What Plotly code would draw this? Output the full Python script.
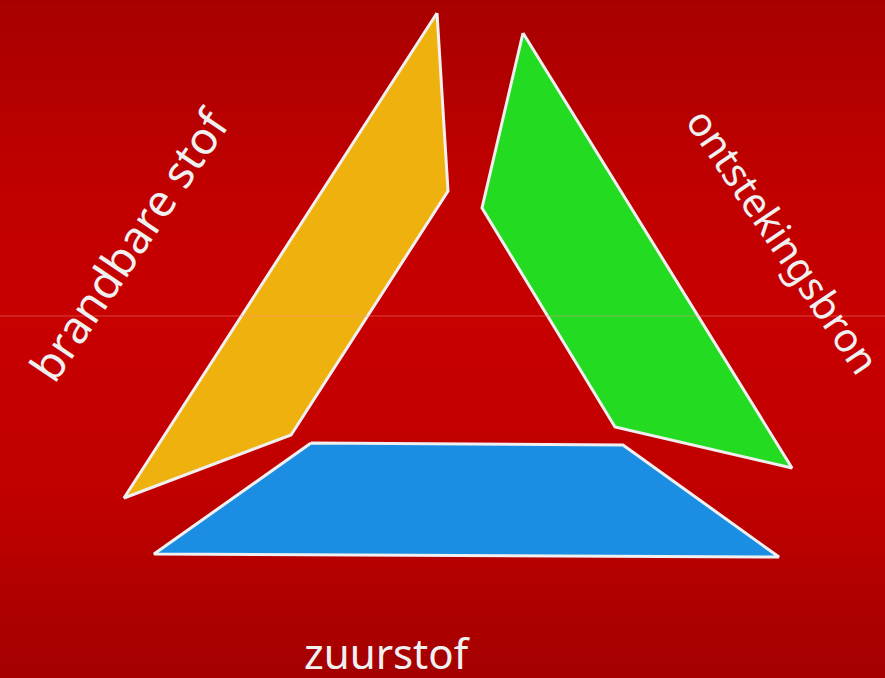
import plotly.graph_objects as go
import numpy as np

# --- data: polygon vertices of the three sides (pixel space) ---
orange_x = [437, 448, 291, 124]
orange_y = [13, 191, 435, 498]
green_x = [523, 792, 615, 482]
green_y = [33, 468, 427, 208]
blue_x = [311, 623, 779, 154]
blue_y = [443, 445, 557, 554]

labels = ["brandbare stof", "ontstekingsbron", "zuurstof"]
label_x = [128, 784, 387]
label_y = [244, 240, 652]
label_angle = [-56, 56, 0]
label_size = [45, 40, 42]

# background gradient stops (y pixel, colour)
bg_stops_y = [0, 200, 316, 480, 678]
bg_stops_c = ["#a80000", "#c20000", "#c70000", "#c20000", "#a40000"]

W, H = 885, 678

fig = go.Figure()

# background gradient as heatmap
ys = np.arange(0, H + 1, 2)
zs = ys.astype(float)
cs = [[s / H, c] for s, c in zip(bg_stops_y, bg_stops_c)]
fig.add_trace(go.Heatmap(
    x=[0, W], y=ys, z=np.column_stack([zs, zs]),
    colorscale=cs, zmin=0, zmax=H, showscale=False,
    zsmooth="best", hoverinfo="skip"))

def poly(xs, ys_, fill):
    fig.add_trace(go.Scatter(
        x=xs + xs[:1], y=ys_ + ys_[:1], mode="lines", fill="toself",
        fillcolor=fill, line=dict(color="#f0f0f0", width=3),
        hoverinfo="skip", showlegend=False))

poly(orange_x, orange_y, "#eeb10e")
poly(green_x, green_y, "#23dc22")
poly(blue_x, blue_y, "#1b8ee3")

for t, x, y, a, s in zip(labels, label_x, label_y, label_angle, label_size):
    fig.add_annotation(x=x, y=y, text=t, textangle=a, showarrow=False,
                       font=dict(family="Comic Sans MS, Noto Sans", size=s, color="#f0f0f0"),
                       xref="x", yref="y", borderpad=0)

fig.add_shape(type="line", x0=0, x1=W, y0=316, y1=316, xref="x", yref="y",
              line=dict(color="rgba(255,140,140,0.45)", width=1))

fig.update_layout(
    width=W, height=H, margin=dict(l=0, r=0, t=0, b=0),
    paper_bgcolor="#b80000", plot_bgcolor="#b80000", showlegend=False,
    xaxis=dict(range=[0, W], visible=False, fixedrange=True),
    yaxis=dict(range=[H, 0], visible=False, fixedrange=True),
)

fig.write_html("out.html", config={"displayModeBar": False},
               post_script="document.body.style.margin='0';document.body.style.overflow='hidden';")
